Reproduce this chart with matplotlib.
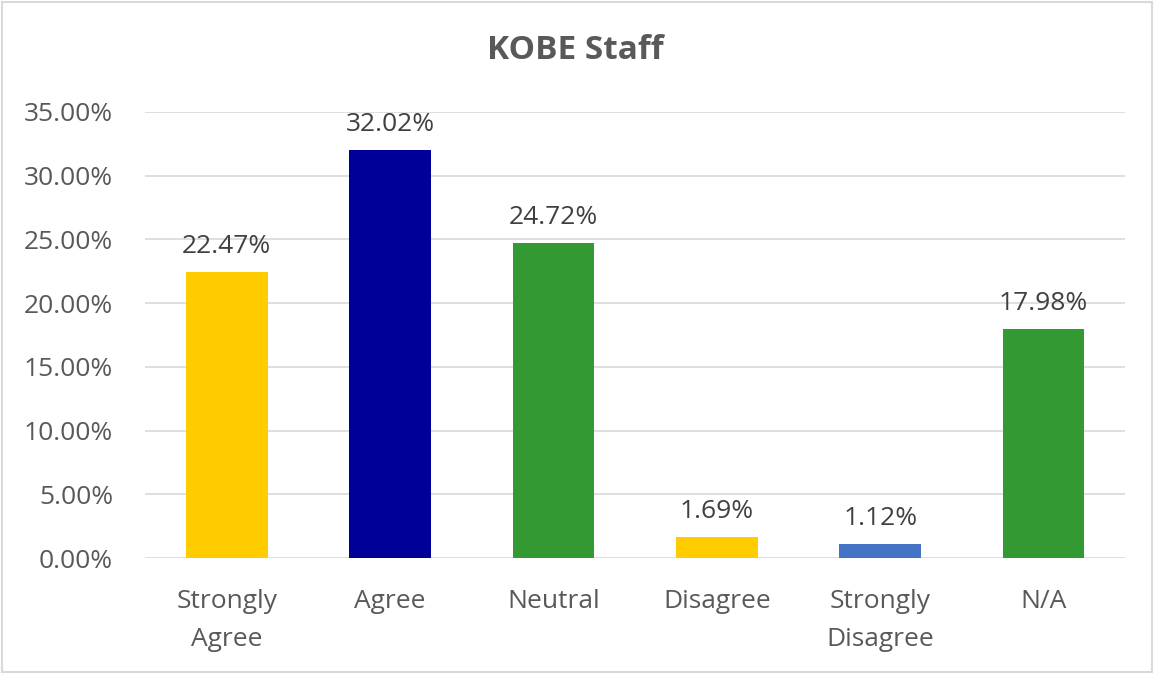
import matplotlib
matplotlib.use("Agg")
import matplotlib.pyplot as plt
from matplotlib.patches import Rectangle
from matplotlib.ticker import FuncFormatter

categories = ["Strongly\nAgree", "Agree", "Neutral", "Disagree", "Strongly\nDisagree", "N/A"]
values = [22.47, 32.02, 24.72, 1.69, 1.12, 17.98]
colors = ["#FFCC00", "#000099", "#339933", "#FFCC00", "#4472C4", "#339933"]
title = "KOBE Staff"

plt.rcParams['font.family'] = ['Open Sans', 'DejaVu Sans']

fig = plt.figure(figsize=(11.54, 6.74), dpi=100)
ax = fig.add_axes([0.1257, 0.172, 0.8493, 0.662])

x = list(range(len(categories)))
bars = ax.bar(x, values, width=0.5, color=colors, zorder=3)
for b, v in zip(bars, values):
    ax.text(b.get_x() + b.get_width() / 2, v + 1.0, f"{v:.2f}%", ha="center", va="bottom",
            fontsize=19, color="#404040")

ax.set_xlim(-0.5, len(categories) - 0.5)
ax.set_ylim(0, 35)
ax.set_yticks([0, 5, 10, 15, 20, 25, 30, 35])
ax.yaxis.set_major_formatter(FuncFormatter(lambda v, p: f"{v:.2f}%"))
ax.set_xticks(x)
ax.set_xticklabels(categories, fontsize=19, color="#595959", linespacing=1.68)
ax.tick_params(axis="y", labelsize=19, labelcolor="#595959", length=0, pad=23)
ax.tick_params(axis="x", length=0, pad=22)
ax.grid(axis="y", color="#D9D9D9", linewidth=1.2, zorder=0)
for s in ax.spines.values():
    s.set_visible(False)

fig.text(0.4983, 0.925, title, ha="center", va="center", fontsize=24, fontweight="bold", color="#595959")
fig.patches.append(Rectangle((0.002, 0.003), 0.996, 0.994, transform=fig.transFigure,
                             fill=False, edgecolor="#D9D9D9", linewidth=1.5))

fig.savefig("out.png", dpi=100)
